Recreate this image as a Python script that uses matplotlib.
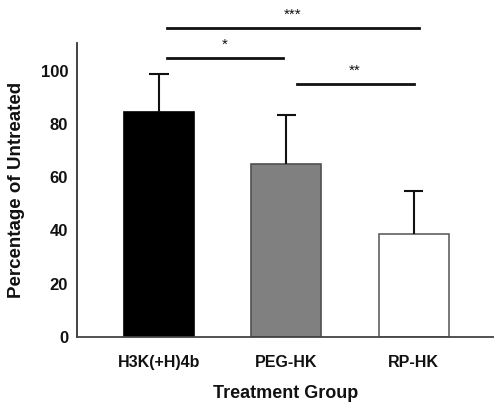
import matplotlib
matplotlib.use("Agg")
import matplotlib.pyplot as plt

plt.rcParams['font.family'] = ['Liberation Sans', 'DejaVu Sans']

# 数据
groups = ['H3K(+H)4b', 'PEG-HK', 'RP-HK']
means = [84.5, 65.0, 38.5]
errors = [14.5, 18.5, 16.5]
bar_colors = ['#000000', '#808080', '#ffffff']
edge_colors = ['#000000', '#505050', '#606060']

# 显著性标注: (左端, 右端, 高度, 标记)
sig_lines = [
    (0.06, 2.04, 116.0, '***'),
    (0.06, 0.97, 105.0, '*'),
    (1.08, 2.00, 95.0, '**'),
]

fig = plt.figure(figsize=(4.94, 4.03), dpi=100)
ax = fig.add_axes([0.156, 0.164, 0.844, 0.7295])

x = list(range(len(groups)))
ax.bar(x, means, width=0.55, color=bar_colors, edgecolor=edge_colors,
       linewidth=1.2, zorder=2)

# 只画上方误差线
tops = [m + e for m, e in zip(means, errors)]
cap = 0.075
ax.vlines(x, means, tops, color='#111111', linewidth=1.5, zorder=3)
ax.hlines(tops, [i - cap for i in x], [i + cap for i in x],
          color='#111111', linewidth=1.5, zorder=3)

for x0, x1, y, label in sig_lines:
    ax.plot([x0, x1], [y, y], color='#111111', linewidth=2, clip_on=False)
    ax.text((x0 + x1) / 2, y + 2.3, label, ha='center', va='bottom',
            fontsize=11, color='#111111', clip_on=False)

ax.set_xlim(-0.643, 2.63)
ax.set_ylim(0, 110.5)
ax.set_yticks([0, 20, 40, 60, 80, 100])
ax.set_xticks(x)
ax.set_xticklabels(groups)

for lbl in ax.get_xticklabels() + ax.get_yticklabels():
    lbl.set_fontweight('bold')
    lbl.set_color('#111111')
for lbl in ax.get_xticklabels():
    lbl.set_fontsize(11.5)
for lbl in ax.get_yticklabels():
    lbl.set_fontsize(12)

ax.tick_params(axis='y', length=0, pad=6.5)
ax.tick_params(axis='x', length=0, pad=13)

ax.spines['top'].set_visible(False)
ax.spines['right'].set_visible(False)
ax.spines['left'].set_color('#333333')
ax.spines['bottom'].set_color('#444444')
ax.spines['left'].set_linewidth(1.3)
ax.spines['bottom'].set_linewidth(1.3)

ax.set_ylabel('Percentage of Untreated', fontsize=13.5, fontweight='bold',
              color='#111111', labelpad=11)
ax.set_xlabel('Treatment Group', fontsize=13, fontweight='bold',
              color='#111111', labelpad=11)

fig.savefig('out.png', dpi=100)
